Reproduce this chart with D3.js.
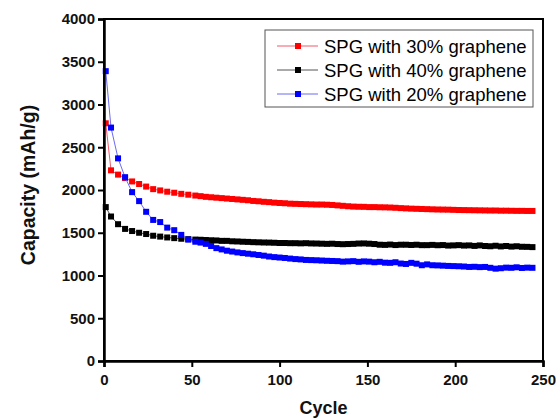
<!DOCTYPE html>
<html>
<head>
<meta charset="utf-8">
<script src="https://cdn.jsdelivr.net/npm/d3@7"></script>
<style>
  html, body { margin: 0; padding: 0; background: #fff; }
  svg { display: block; font-family: "Liberation Sans", Arial, sans-serif; }
</style>
</head>
<body>
<div id="chart"></div>
<script>
// ---- data ----
const cycles = [1,4,8,12,16,20,24,28,32,36,40,44,48,
  52,55,58,61,64,67,70,73,76,79,82,85,88,91,94,97,100,103,106,109,112,115,118,121,124,127,130,133,136,139,142,145,148,151,154,157,160,163,166,169,172,175,178,181,184,187,190,193,196,199,202,205,208,211,214,217,220,223,226,229,232,235,238,241,244];

const spg30 = [2780,2230,2180,2140,2100,2070,2040,2010,1995,1980,1968,1955,1945,
  1935,1928,1920,1915,1910,1905,1900,1895,1890,1885,1880,1872,1868,1862,1858,1852,1848,1845,1840,1838,1836,1834,1832,1830,1830,1828,1825,1820,1815,1810,1806,1804,1803,1800,1800,1798,1797,1795,1792,1788,1785,1782,1780,1778,1776,1774,1772,1771,1770,1768,1766,1765,1764,1763,1762,1761,1760,1760,1758,1758,1757,1756,1756,1755,1755,1754];

const spg40 = [1800,1690,1600,1545,1520,1500,1485,1465,1455,1445,1437,1430,1425,
  1420,1418,1415,1412,1410,1405,1405,1400,1398,1395,1393,1390,1388,1386,1385,1383,1380,1380,1378,1378,1376,1378,1375,1374,1372,1370,1372,1368,1366,1368,1370,1374,1375,1372,1368,1360,1358,1362,1356,1360,1360,1357,1360,1355,1355,1358,1354,1356,1350,1352,1355,1350,1352,1346,1352,1345,1342,1348,1340,1345,1338,1342,1336,1335,1332];

const spg20 = [3390,2730,2370,2150,1975,1870,1745,1650,1625,1560,1530,1475,1420,
  1395,1385,1370,1345,1320,1305,1290,1280,1270,1262,1255,1248,1240,1232,1222,1215,1210,1205,1198,1192,1188,1182,1180,1178,1175,1172,1170,1168,1162,1165,1168,1160,1165,1162,1155,1160,1150,1148,1155,1140,1135,1148,1138,1120,1130,1120,1118,1115,1112,1110,1108,1105,1100,1102,1098,1100,1090,1080,1085,1092,1090,1096,1088,1092,1090];

const seriesNames = ["SPG with 30% graphene", "SPG with 40% graphene", "SPG with 20% graphene"];
const seriesColors = ["#ff0000", "#000000", "#0000ff"];
const lineColors = ["#f05a6a", "#555555", "#6b6bf0"];
const xTicks = [0, 50, 100, 150, 200, 250];
const yTicks = [0, 500, 1000, 1500, 2000, 2500, 3000, 3500, 4000];

// ---- layout ----
const W = 556, H = 418;
const L = 104, R = 543, T = 19, B = 361;

const svg = d3.select("#chart").append("svg").attr("width", W).attr("height", H);

const x = d3.scaleLinear().domain([0, 250]).range([L, R]);
const y = d3.scaleLinear().domain([0, 4000]).range([B, T]);

// frame (top/right)
svg.append("rect").attr("x", L).attr("y", T).attr("width", R - L).attr("height", B - T)
  .attr("fill", "none").attr("stroke", "#000").attr("stroke-width", 2);

const seriesData = [spg30, spg40, spg20];
const line = d3.line().x((d) => x(d[0])).y((d) => y(d[1]));

seriesData.forEach((vals, i) => {
  const pts = cycles.map((c, k) => [c, vals[k]]);
  const g = svg.append("g");
  g.append("path").datum(pts).attr("d", line).attr("fill", "none")
    .attr("stroke", lineColors[i]).attr("stroke-width", 1);
  g.selectAll("rect").data(pts).enter().append("rect")
    .attr("x", (d) => x(d[0]) - 3).attr("y", (d) => y(d[1]) - 3)
    .attr("width", 6).attr("height", 6).attr("fill", seriesColors[i]);
});

// axes
const xAxis = d3.axisBottom(x).tickValues(xTicks).tickFormat(d3.format("d")).tickSize(6).tickPadding(7);
const yAxis = d3.axisLeft(y).tickValues(yTicks).tickFormat(d3.format("d")).tickSize(6).tickPadding(3);

const gx = svg.append("g").attr("transform", `translate(0,${B})`).call(xAxis);
const gy = svg.append("g").attr("transform", `translate(${L},0)`).call(yAxis);
[gx, gy].forEach((g) => {
  g.select(".domain").attr("stroke", "#000").attr("stroke-width", 2.5);
  g.selectAll(".tick line").attr("stroke", "#000").attr("stroke-width", 2);
  g.selectAll(".tick text").attr("fill", "#111").style("font-size", "15px")
    .style("font-weight", "bold").style("font-family", '"Liberation Sans", Arial, sans-serif');
});

// axis titles
svg.append("text").attr("x", (L + R) / 2).attr("y", 414).attr("text-anchor", "middle")
  .style("font-size", "18px").style("font-weight", "bold").attr("fill", "#111").text("Cycle");
svg.append("text").attr("transform", `translate(35,${(T + B) / 2 - 5}) rotate(-90)`)
  .attr("text-anchor", "middle").style("font-size", "19.5px").style("font-weight", "bold")
  .attr("fill", "#111").text("Capacity (mAh/g)");

// legend
const lg = svg.append("g");
lg.append("rect").attr("x", 265).attr("y", 30).attr("width", 268).attr("height", 77)
  .attr("fill", "#fff").attr("stroke", "#555").attr("stroke-width", 1);
seriesNames.forEach((name, i) => {
  const cy = 46 + i * 24;
  lg.append("line").attr("x1", 277).attr("x2", 318).attr("y1", cy).attr("y2", cy)
    .attr("stroke", lineColors[i]).attr("stroke-width", 1);
  lg.append("rect").attr("x", 295).attr("y", cy - 3).attr("width", 6).attr("height", 6)
    .attr("fill", seriesColors[i]);
  lg.append("text").attr("x", 324).attr("y", cy + 6.5).style("font-size", "18.5px")
    .attr("fill", "#000").text(name);
});
</script>
</body>
</html>
